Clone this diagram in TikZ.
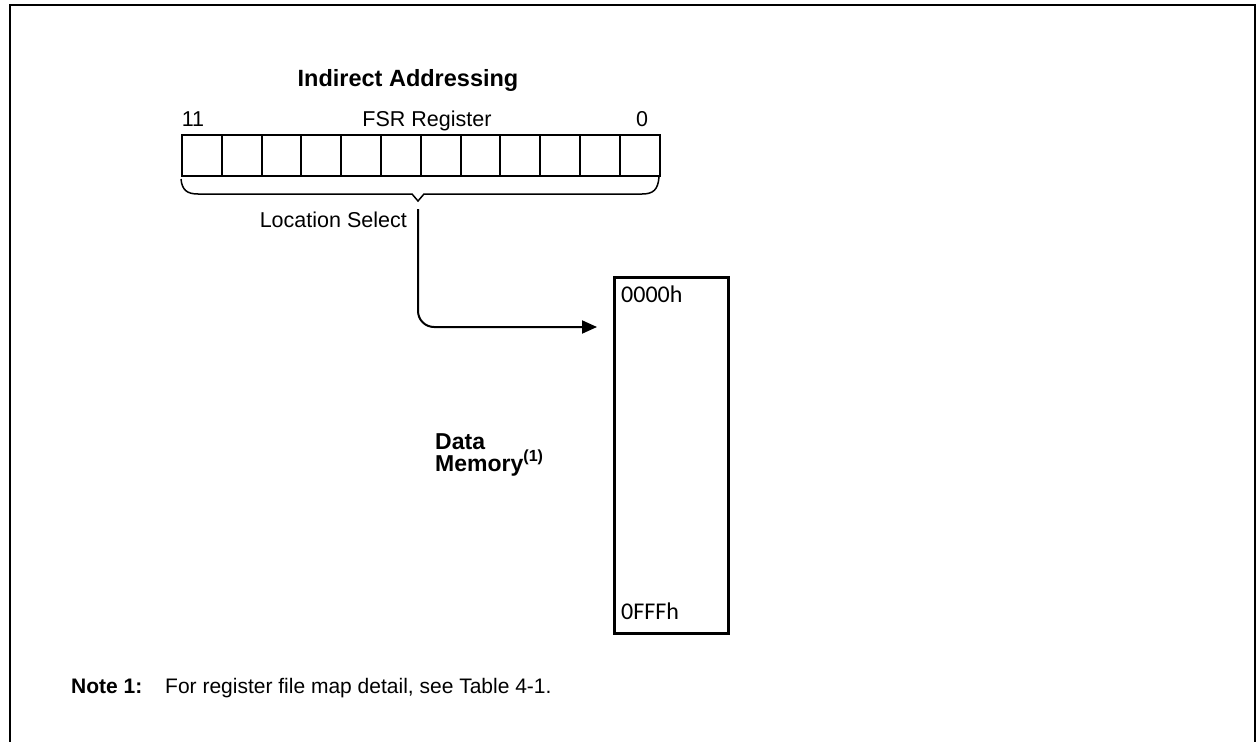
\documentclass[tikz,border=0pt]{standalone}
\usepackage{fontspec}
\setmainfont{Liberation Sans}
\newfontfamily\addrfont{Carlito}
\usetikzlibrary{arrows.meta}
\begin{document}
\begin{tikzpicture}[x=1pt,y=-1pt,
  txt/.style={inner sep=0pt,font=\fontsize{21.5}{25}\selectfont},
  bold/.style={inner sep=0pt,font=\fontsize{23}{26}\selectfont\bfseries},
  addr/.style={inner sep=0pt,font=\fontsize{24}{28}\selectfont\addrfont},
  cell/.style={draw,line width=2pt,minimum width=39.75pt,minimum height=41pt,inner sep=0pt,anchor=north west},
  conn/.style={line width=2pt,rounded corners=16pt,-{Triangle[length=15pt,width=13pt]}}]
\useasboundingbox (0,0) rectangle (1257,741);
% outer frame (open at bottom)
\draw[line width=2.5pt] (10,745) -- (10,5) -- (1255,5) -- (1255,745);
% title
\node[bold,anchor=base,font=\fontsize{23.5}{26}\selectfont\bfseries] (title) at (408,87) {Indirect Addressing};
% register
\foreach \i in {0,...,11}{
  \node[cell] (c\i) at ({181+39.8*\i},134) {};
}
\node[txt,anchor=base] (b11) at (193,127) {11};
\node[txt,anchor=base] (fsr) at (427,127) {FSR Register};
\node[txt,anchor=base] (b0) at (642,127) {0};
% brace
\coordinate (tip) at (418,201);
\draw[line width=1.5pt] (c0.south west) ++(0,2) .. controls (182,190) and (187,194) .. (198,194) -- (412,194) -- (tip) -- (424,194) -- (642,194) .. controls (653,194) and (658,190) .. (659,177);
\node[txt,anchor=base east] (ls) at (407,227) {Location Select};
% memory
\node[draw,line width=2.5pt,minimum width=114pt,minimum height=356pt,anchor=north west,inner sep=0pt] (mem) at (613,276) {};
\node[addr,anchor=base west] (a0) at (621,302) {0000h};
\node[addr,anchor=base west] (a1) at (621,619) {0FFFh};
\node[bold,anchor=base west] (dm1) at (435,449) {Data};
\node[bold,anchor=base west] (dm2) at (435,471) {Memory\textsuperscript{(1)}};
% connector
\coordinate (start) at (418,209);
\coordinate (end) at (597,327);
\draw[conn] (start) |- (end);
% note
\node[bold,anchor=base west,font=\fontsize{21}{24}\selectfont\bfseries] (note) at (71,693) {Note 1:};
\node[txt,anchor=base west,font=\fontsize{21}{24}\selectfont] (notetext) at (165,693) {For register file map detail, see Table 4-1.};
\end{tikzpicture}
\end{document}
